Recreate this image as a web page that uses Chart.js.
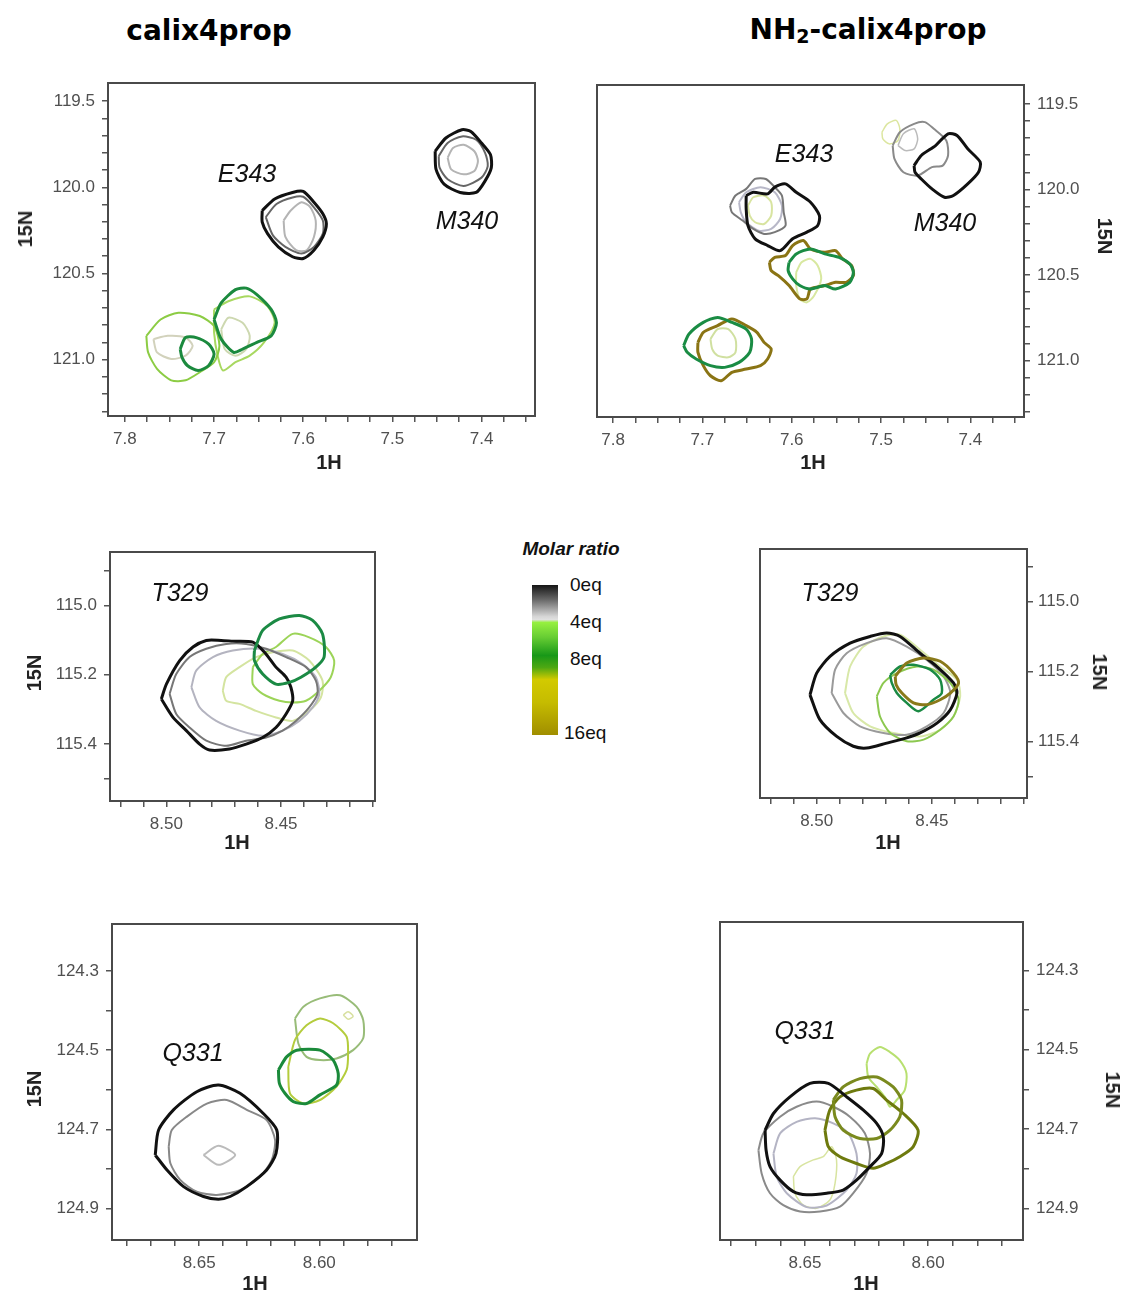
<!DOCTYPE html>
<html><head><meta charset="utf-8">
<script src="https://cdn.jsdelivr.net/npm/chart.js@4.4.1/dist/chart.umd.min.js"></script>
<style>
body{margin:0;background:#fff;width:1125px;height:1292px;position:relative;overflow:hidden;font-family:"Liberation Sans",Arial,sans-serif}
canvas{position:absolute}
.t{position:absolute;white-space:nowrap;transform:translate(-50%,-50%);line-height:1}
.title{font-family:"DejaVu Sans";font-weight:bold;font-size:28px;color:#000}
.res{font-style:italic;font-size:25px;color:#111}
.ax{font-weight:bold;font-size:20px;color:#222}
.rotL{transform:translate(-50%,-50%) rotate(-90deg)}
.rotR{transform:translate(-50%,-50%) rotate(90deg)}
.leg{position:absolute;font-size:19px;color:#111;line-height:1;transform:translateY(-50%)}
sub{font-size:0.68em;vertical-align:-0.18em}
</style></head>
<body>
<div class="t title" style="left:209px;top:31px">calix4prop</div>
<div class="t title" style="left:868px;top:31px">NH<sub>2</sub>-calix4prop</div>

<canvas id="c1" width="555" height="393" style="left:0px;top:73px"></canvas>
<canvas id="c2" width="544" height="392" style="left:580px;top:75px"></canvas>
<canvas id="c3" width="395" height="309" style="left:0px;top:542px"></canvas>
<canvas id="c4" width="377" height="309" style="left:740px;top:539px"></canvas>
<canvas id="c5" width="437" height="376" style="left:0px;top:914px"></canvas>
<canvas id="c6" width="418" height="378" style="left:700px;top:912px"></canvas>

<div class="t res" style="left:247px;top:173px">E343</div>
<div class="t res" style="left:467px;top:220px">M340</div>
<div class="t res" style="left:804px;top:153px">E343</div>
<div class="t res" style="left:945px;top:222px">M340</div>
<div class="t res" style="left:180px;top:592px">T329</div>
<div class="t res" style="left:830px;top:592px">T329</div>
<div class="t res" style="left:193px;top:1052px">Q331</div>
<div class="t res" style="left:805px;top:1030px">Q331</div>

<div class="t ax" style="left:329px;top:462px">1H</div>
<div class="t ax" style="left:813px;top:462px">1H</div>
<div class="t ax" style="left:237px;top:842px">1H</div>
<div class="t ax" style="left:888px;top:842px">1H</div>
<div class="t ax" style="left:255px;top:1283px">1H</div>
<div class="t ax" style="left:866px;top:1283px">1H</div>
<div class="t ax rotL" style="left:25px;top:229px">15N</div>
<div class="t ax rotR" style="left:1105px;top:236px">15N</div>
<div class="t ax rotL" style="left:34px;top:673px">15N</div>
<div class="t ax rotR" style="left:1100px;top:672px">15N</div>
<div class="t ax rotL" style="left:34px;top:1089px">15N</div>
<div class="t ax rotR" style="left:1113px;top:1090px">15N</div>

<div class="t" style="left:571px;top:548px;font-weight:bold;font-style:italic;font-size:19px;color:#111">Molar ratio</div>
<div style="position:absolute;left:532px;top:585px;width:26px;height:150px;background:linear-gradient(to bottom,#151515 0%,#6a6a6a 10%,#d6d6d6 21%,#e0e0e0 23%,#96f040 25%,#66cc33 35%,#189818 47%,#4ea812 55%,#d2ca00 63%,#c6bc00 78%,#a08e00 100%)"></div>
<div class="leg" style="left:570px;top:584px">0eq</div>
<div class="leg" style="left:570px;top:621px">4eq</div>
<div class="leg" style="left:570px;top:658px">8eq</div>
<div class="leg" style="left:564px;top:732px">16eq</div>

<script>
// ---------------- axis ticks ----------------
const topXTicks = [7.8,7.775,7.75,7.725,7.7,7.675,7.65,7.625,7.6,7.575,7.55,7.525,7.5,7.475,7.45,7.425,7.4,7.375,7.35];
const topXLabels = ['7.8','7.7','7.6','7.5','7.4'];
const topYTicks = [119.5,119.6,119.7,119.8,119.9,120.0,120.1,120.2,120.3,120.4,120.5,120.6,120.7,120.8,120.9,121.0,121.1,121.2,121.3];
const topYLabels = ['119.5','120.0','120.5','121.0'];
const midXTicks = [8.52,8.51,8.50,8.49,8.48,8.47,8.46,8.45,8.44,8.43,8.42,8.41];
const midXLabels = ['8.50','8.45'];
const midYTicks = [114.9,115.0,115.2,115.4,115.5];
const midYLabels = ['115.0','115.2','115.4'];
const botXTicks = [8.68,8.67,8.66,8.65,8.64,8.63,8.62,8.61,8.60,8.59,8.58,8.57];
const botXLabels = ['8.65','8.60'];
const botYTicks = [124.3,124.4,124.5,124.6,124.7,124.8,124.9];
const botYLabels = ['124.3','124.5','124.7','124.9'];

// ---------------- contours: [1H ppm, 15N ppm] ----------------
// calix4prop, E343 / M340
const tlE343_0eq = [[7.646,120.135],[7.632,120.068],[7.612,120.030],[7.600,120.024],[7.588,120.087],[7.578,120.154],[7.574,120.212],[7.578,120.288],[7.588,120.365],[7.600,120.413],[7.612,120.403],[7.628,120.346],[7.640,120.269],[7.646,120.202]];
const tlE343_2eq = [[7.642,120.173],[7.630,120.097],[7.612,120.059],[7.600,120.055],[7.588,120.116],[7.578,120.193],[7.578,120.269],[7.588,120.346],[7.602,120.384],[7.620,120.346],[7.634,120.279]];
const tlE343_3eq = [[7.622,120.193],[7.614,120.135],[7.602,120.087],[7.592,120.116],[7.586,120.193],[7.588,120.288],[7.596,120.365],[7.608,120.365],[7.620,120.288]];
const tlM340_0eq = [[7.452,119.791],[7.440,119.714],[7.422,119.666],[7.412,119.676],[7.400,119.743],[7.390,119.810],[7.389,119.886],[7.396,119.963],[7.406,120.030],[7.424,120.030],[7.442,119.982],[7.451,119.896]];
const tlM340_2eq = [[7.448,119.819],[7.438,119.743],[7.422,119.705],[7.406,119.724],[7.396,119.800],[7.393,119.877],[7.400,119.944],[7.420,119.992],[7.438,119.953],[7.447,119.886]];
const tlM340_3eq = [[7.438,119.829],[7.432,119.772],[7.420,119.753],[7.408,119.791],[7.404,119.848],[7.408,119.906],[7.420,119.925],[7.434,119.896]];
const tlG8_big = [[7.700,120.767],[7.692,120.671],[7.676,120.594],[7.664,120.585],[7.652,120.623],[7.636,120.709],[7.630,120.786],[7.636,120.862],[7.652,120.900],[7.668,120.939],[7.678,120.958],[7.692,120.881]];
const tlG8_small = [[7.738,120.939],[7.732,120.872],[7.720,120.872],[7.706,120.910],[7.700,120.967],[7.706,121.034],[7.718,121.063],[7.730,121.034],[7.736,120.987]];
const tlG4_left = [[7.776,120.862],[7.760,120.767],[7.740,120.728],[7.716,120.747],[7.700,120.805],[7.694,120.920],[7.700,121.015],[7.716,121.073],[7.732,121.120],[7.748,121.120],[7.764,121.053],[7.774,120.958]];
const tlG4_right = [[7.700,120.709],[7.684,120.661],[7.660,120.633],[7.640,120.690],[7.632,120.786],[7.644,120.900],[7.660,120.977],[7.676,121.015],[7.690,121.063],[7.696,120.977],[7.700,120.843]];
const tlG5_right = [[7.692,120.824],[7.684,120.757],[7.668,120.786],[7.660,120.862],[7.664,120.939],[7.676,120.977],[7.688,120.939]];
const tlG5_left = [[7.768,120.881],[7.752,120.862],[7.732,120.872],[7.724,120.920],[7.732,120.977],[7.748,120.996],[7.764,120.958]];

// NH2-calix4prop, E343 / M340
const trM340_0eq = [[7.463,119.861],[7.455,119.802],[7.439,119.744],[7.425,119.675],[7.415,119.685],[7.403,119.763],[7.389,119.841],[7.391,119.900],[7.403,119.968],[7.419,120.036],[7.429,120.046],[7.443,119.997],[7.455,119.939],[7.462,119.900]];
const trM340_2eq = [[7.487,119.744],[7.479,119.666],[7.463,119.617],[7.451,119.607],[7.441,119.646],[7.427,119.714],[7.425,119.802],[7.431,119.861],[7.443,119.870],[7.459,119.919],[7.475,119.900],[7.485,119.822]];
const trM340_3eq = [[7.481,119.744],[7.475,119.675],[7.463,119.646],[7.459,119.705],[7.463,119.763],[7.473,119.773]];
const trM340_5eq = [[7.499,119.666],[7.493,119.617],[7.483,119.597],[7.479,119.646],[7.481,119.714],[7.491,119.734],[7.498,119.705]];
const trE343_0eq = [[7.651,120.036],[7.643,120.017],[7.627,120.026],[7.619,119.987],[7.607,119.968],[7.595,120.017],[7.579,120.075],[7.569,120.153],[7.571,120.212],[7.583,120.250],[7.599,120.289],[7.613,120.358],[7.627,120.328],[7.641,120.289],[7.649,120.212],[7.651,120.114]];
const trE343_2eq = [[7.669,120.095],[7.663,120.036],[7.651,119.997],[7.641,119.939],[7.629,119.939],[7.619,119.987],[7.611,120.036],[7.609,120.134],[7.607,120.212],[7.619,120.250],[7.631,120.260],[7.643,120.231],[7.655,120.182],[7.667,120.134]];
const trE343_3eq = [[7.659,120.075],[7.651,120.017],[7.635,119.987],[7.619,120.017],[7.611,120.095],[7.613,120.173],[7.623,120.231],[7.637,120.241],[7.651,120.192],[7.657,120.134]];
const trE343_5eq = [[7.649,120.095],[7.643,120.046],[7.631,120.036],[7.623,120.075],[7.623,120.153],[7.631,120.202],[7.641,120.192],[7.647,120.153]];
const trE343_16eq = [[7.625,120.426],[7.619,120.397],[7.607,120.387],[7.599,120.328],[7.587,120.299],[7.579,120.348],[7.563,120.367],[7.551,120.358],[7.543,120.406],[7.533,120.445],[7.531,120.504],[7.539,120.543],[7.551,120.543],[7.563,120.562],[7.579,120.582],[7.583,120.640],[7.591,120.640],[7.603,120.562],[7.615,120.504],[7.623,120.475]];
const trE343_8eq = [[7.603,120.426],[7.595,120.377],[7.579,120.348],[7.563,120.377],[7.547,120.397],[7.535,120.436],[7.531,120.484],[7.535,120.543],[7.551,120.582],[7.563,120.562],[7.579,120.582],[7.591,120.562],[7.599,120.523],[7.604,120.475]];
const trE343_6eq = [[7.595,120.484],[7.589,120.426],[7.579,120.406],[7.571,120.445],[7.567,120.523],[7.575,120.621],[7.583,120.660],[7.591,120.640],[7.595,120.562]];
const trLow_8eq = [[7.721,120.913],[7.715,120.845],[7.699,120.777],[7.683,120.748],[7.667,120.777],[7.651,120.816],[7.645,120.874],[7.647,120.952],[7.659,121.011],[7.675,121.040],[7.691,121.030],[7.707,120.991],[7.717,120.952]];
const trLow_16eq = [[7.705,120.894],[7.699,120.835],[7.683,120.796],[7.667,120.757],[7.651,120.796],[7.639,120.835],[7.631,120.894],[7.623,120.933],[7.627,120.991],[7.635,121.030],[7.651,121.050],[7.667,121.069],[7.679,121.118],[7.691,121.089],[7.699,121.030],[7.705,120.952]];
const trLow_6eq = [[7.691,120.874],[7.683,120.816],[7.671,120.816],[7.663,120.874],[7.663,120.952],[7.671,120.981],[7.683,120.971],[7.689,120.933]];

// calix4prop, T329
const mlT329_0eq = [[8.5022,115.270],[8.5000,115.227],[8.4942,115.159],[8.4884,115.120],[8.4826,115.101],[8.4761,115.101],[8.4710,115.103],[8.4623,115.106],[8.4572,115.135],[8.4522,115.178],[8.4478,115.207],[8.4457,115.236],[8.4449,115.275],[8.4478,115.313],[8.4522,115.352],[8.4580,115.381],[8.4652,115.400],[8.4725,115.414],[8.4812,115.417],[8.4855,115.400],[8.4913,115.361],[8.4971,115.323]];
const mlT329_2eq = [[8.4986,115.255],[8.4957,115.198],[8.4899,115.149],[8.4826,115.125],[8.4739,115.111],[8.4652,115.111],[8.4565,115.125],[8.4478,115.149],[8.4391,115.178],[8.4348,115.217],[8.4341,115.255],[8.4377,115.294],[8.4435,115.333],[8.4493,115.361],[8.4565,115.381],[8.4652,115.390],[8.4739,115.405],[8.4826,115.390],[8.4899,115.352],[8.4957,115.313]];
const mlT329_3eq = [[8.4891,115.236],[8.4870,115.188],[8.4797,115.149],[8.4710,115.130],[8.4594,115.125],[8.4493,115.140],[8.4406,115.169],[8.4348,115.207],[8.4333,115.255],[8.4362,115.294],[8.4420,115.333],[8.4493,115.361],[8.4580,115.376],[8.4681,115.361],[8.4783,115.333],[8.4855,115.294]];
const mlT329_5eq = [[8.4754,115.246],[8.4739,115.207],[8.4681,115.178],[8.4609,115.149],[8.4536,115.135],[8.4449,115.130],[8.4377,115.159],[8.4319,115.217],[8.4326,115.265],[8.4377,115.304],[8.4449,115.333],[8.4522,115.323],[8.4609,115.304],[8.4681,115.284],[8.4739,115.275]];
const mlT329_4eq = [[8.4623,115.178],[8.4580,115.140],[8.4522,115.120],[8.4449,115.082],[8.4377,115.092],[8.4304,115.120],[8.4268,115.159],[8.4283,115.207],[8.4333,115.246],[8.4391,115.275],[8.4449,115.280],[8.4507,115.275],[8.4580,115.255],[8.4623,115.227]];
const mlT329_8eq = [[8.4616,115.130],[8.4580,115.072],[8.4507,115.039],[8.4420,115.029],[8.4362,115.043],[8.4319,115.082],[8.4312,115.149],[8.4348,115.178],[8.4413,115.207],[8.4464,115.222],[8.4522,115.227],[8.4580,115.198],[8.4616,115.159]];

// NH2-calix4prop, T329
const mrT329_0eq = [[8.5029,115.267],[8.5000,115.205],[8.4942,115.157],[8.4855,115.119],[8.4768,115.100],[8.4696,115.090],[8.4638,115.100],[8.4551,115.148],[8.4478,115.186],[8.4406,115.233],[8.4391,115.262],[8.4420,115.310],[8.4478,115.348],[8.4551,115.376],[8.4609,115.390],[8.4696,115.405],[8.4783,115.419],[8.4841,115.414],[8.4913,115.386],[8.4986,115.338]];
const mrT329_2eq = [[8.4935,115.262],[8.4920,115.195],[8.4870,115.148],[8.4783,115.119],[8.4696,115.105],[8.4609,115.129],[8.4522,115.167],[8.4449,115.214],[8.4420,115.262],[8.4449,115.319],[8.4522,115.357],[8.4609,115.381],[8.4710,115.376],[8.4812,115.357],[8.4884,115.319]];
const mrT329_5eq = [[8.4877,115.262],[8.4855,115.186],[8.4797,115.129],[8.4710,115.100],[8.4638,115.095],[8.4551,115.138],[8.4464,115.186],[8.4391,115.224],[8.4377,115.271],[8.4406,115.329],[8.4464,115.367],[8.4551,115.386],[8.4667,115.376],[8.4768,115.357],[8.4841,115.319]];
const mrT329_4eq = [[8.4739,115.271],[8.4710,115.233],[8.4652,115.205],[8.4565,115.186],[8.4493,115.195],[8.4420,115.233],[8.4384,115.281],[8.4406,115.329],[8.4464,115.367],[8.4536,115.395],[8.4609,115.400],[8.4681,115.376],[8.4725,115.329]];
const mrT329_16eq = [[8.4659,115.214],[8.4609,115.176],[8.4536,115.162],[8.4464,115.171],[8.4406,115.205],[8.4384,115.233],[8.4420,115.262],[8.4464,115.281],[8.4522,115.295],[8.4580,115.290],[8.4630,115.262],[8.4655,115.238]];
const mrT329_8eq = [[8.4681,115.210],[8.4638,115.186],[8.4580,115.181],[8.4507,115.195],[8.4464,115.224],[8.4457,115.262],[8.4493,115.281],[8.4558,115.314],[8.4609,115.290],[8.4652,115.262],[8.4674,115.233]];

// calix4prop, Q331
const blQ331_0eq = [[8.6683,124.765],[8.6669,124.702],[8.6607,124.651],[8.6510,124.605],[8.6420,124.588],[8.6330,124.609],[8.6233,124.660],[8.6177,124.702],[8.6180,124.761],[8.6219,124.803],[8.6302,124.845],[8.6371,124.870],[8.6420,124.877],[8.6482,124.870],[8.6565,124.845],[8.6634,124.803]];
const blQ331_2eq = [[8.6627,124.744],[8.6614,124.702],[8.6551,124.668],[8.6468,124.635],[8.6385,124.626],[8.6302,124.651],[8.6219,124.677],[8.6184,124.727],[8.6198,124.778],[8.6247,124.820],[8.6330,124.854],[8.6427,124.866],[8.6510,124.858],[8.6579,124.828],[8.6620,124.786]];
const blQ331_3eq = [[8.6482,124.765],[8.6420,124.742],[8.6350,124.765],[8.6420,124.790]];
const blQ331_8eq = [[8.6170,124.550],[8.6136,124.517],[8.6094,124.500],[8.5997,124.500],[8.5942,124.525],[8.5921,124.559],[8.5928,124.588],[8.5997,124.613],[8.6053,124.635],[8.6108,124.630],[8.6143,124.609],[8.6166,124.584]];
const blQ331_6eq = [[8.6129,124.542],[8.6101,124.474],[8.6053,124.437],[8.5997,124.420],[8.5942,124.432],[8.5886,124.466],[8.5880,124.508],[8.5886,124.550],[8.5928,124.592],[8.5997,124.626],[8.6066,124.635],[8.6122,124.609]];
const blQ331_4eq = [[8.6101,124.420],[8.6066,124.390],[8.5997,124.369],[8.5914,124.361],[8.5845,124.390],[8.5817,124.424],[8.5817,124.470],[8.5859,124.500],[8.5928,124.521],[8.5997,124.525],[8.6053,124.517],[8.6087,124.483]];
const blQ331_5eq = [[8.5900,124.411],[8.5880,124.403],[8.5859,124.414],[8.5880,124.422]];

// NH2-calix4prop, Q331
const brQ331_0eq = [[8.6662,124.703],[8.6628,124.661],[8.6561,124.619],[8.6480,124.585],[8.6405,124.585],[8.6331,124.619],[8.6264,124.652],[8.6209,124.686],[8.6182,124.720],[8.6189,124.762],[8.6236,124.795],[8.6291,124.829],[8.6345,124.854],[8.6412,124.862],[8.6493,124.866],[8.6547,124.858],[8.6601,124.829],[8.6642,124.795],[8.6658,124.753]];
const brQ331_2eq = [[8.6689,124.753],[8.6669,124.711],[8.6601,124.669],[8.6534,124.644],[8.6453,124.631],[8.6385,124.644],[8.6318,124.669],[8.6257,124.711],[8.6236,124.762],[8.6250,124.812],[8.6304,124.862],[8.6358,124.896],[8.6439,124.908],[8.6520,124.908],[8.6588,124.892],[8.6642,124.862],[8.6676,124.812]];
const brQ331_3eq = [[8.6628,124.762],[8.6601,124.711],[8.6534,124.682],[8.6459,124.673],[8.6385,124.686],[8.6324,124.711],[8.6291,124.762],[8.6291,124.812],[8.6331,124.854],[8.6412,124.893],[8.6493,124.897],[8.6574,124.862],[8.6615,124.820]];
const brQ331_5eq = [[8.6547,124.820],[8.6520,124.795],[8.6466,124.778],[8.6426,124.770],[8.6392,124.745],[8.6372,124.778],[8.6378,124.837],[8.6399,124.879],[8.6453,124.900],[8.6507,124.892],[8.6541,124.862]];
const brQ331_12eq = [[8.6385,124.627],[8.6345,124.594],[8.6277,124.573],[8.6209,124.569],[8.6142,124.594],[8.6108,124.627],[8.6115,124.669],[8.6155,124.703],[8.6209,124.724],[8.6277,124.724],[8.6345,124.703],[8.6378,124.669]];
const brQ331_16eq = [[8.6419,124.703],[8.6399,124.652],[8.6358,124.619],[8.6291,124.602],[8.6223,124.598],[8.6169,124.627],[8.6101,124.661],[8.6041,124.703],[8.6061,124.745],[8.6115,124.770],[8.6169,124.787],[8.6223,124.799],[8.6291,124.787],[8.6358,124.770],[8.6405,124.745]];
const brQ331_4eq = [[8.6250,124.535],[8.6236,124.510],[8.6196,124.493],[8.6155,124.506],[8.6115,124.527],[8.6088,124.560],[8.6095,124.602],[8.6128,124.627],[8.6155,124.644],[8.6176,124.619],[8.6209,124.594],[8.6243,124.569]];

// ---------------- drawing ----------------
function labelFor(v, labels) {
  for (const s of labels) if (Math.abs(parseFloat(s) - v) < 1e-6) return s;
  return '';
}
function noPad(s) { s.paddingTop = 0; s.paddingBottom = 0; s.paddingLeft = 0; s.paddingRight = 0; }
const framePlugin = {
  id: 'frame',
  afterDraw(chart) {
    const {ctx, chartArea: a} = chart;
    ctx.save();
    ctx.strokeStyle = '#4a4a4a';
    ctx.lineWidth = 2;
    ctx.strokeRect(a.left, a.top, a.right - a.left, a.bottom - a.top);
    ctx.restore();
  }
};
function makePanel(id, o) {
  const datasets = o.series.map(s => ({
    data: s[0].concat([s[0][0]]).map(p => ({x: p[0], y: p[1]})),
    borderColor: s[1], borderWidth: s[2], showLine: true, pointRadius: 0,
    fill: false, tension: 0.25
  }));
  const tickFont = {family: 'Liberation Sans', size: 17};
  const gridOpt = {drawOnChartArea: false, drawTicks: true, tickLength: 6, color: '#555', lineWidth: 1.5};
  new Chart(document.getElementById(id), {
    type: 'scatter',
    data: {datasets},
    options: {
      responsive: false, animation: false, devicePixelRatio: 1, events: [],
      layout: {padding: o.pad},
      plugins: {legend: {display: false}, tooltip: {enabled: false}},
      scales: {
        x: {
          type: 'linear', reverse: true, min: o.xr[1], max: o.xr[0], position: 'bottom',
          afterBuildTicks: s => { s.ticks = o.xt.map(v => ({value: v})); },
          afterFit: s => { s.height = o.xh; noPad(s); },
          ticks: {autoSkip: false, maxRotation: 0, minRotation: 0, padding: 7, color: '#505050', font: tickFont,
                  callback: v => labelFor(v, o.xl)},
          grid: gridOpt, border: {display: false}
        },
        y: {
          type: 'linear', reverse: true, min: o.yr[0], max: o.yr[1], position: o.ypos,
          afterBuildTicks: s => { s.ticks = o.yt.map(v => ({value: v})); },
          afterFit: s => { s.width = o.yw; noPad(s); },
          ticks: {autoSkip: false, padding: o.ypad, color: '#505050', font: tickFont,
                  callback: v => labelFor(v, o.yl)},
          grid: gridOpt, border: {display: false}
        }
      }
    },
    plugins: [framePlugin]
  });
}

makePanel('c1', {
  pad: {top: 10, left: 0, right: 20, bottom: 0}, xh: 50, yw: 108, ypos: 'left', ypad: 7,
  xr: [7.340, 7.819], yr: [119.395, 121.327],
  xt: topXTicks, xl: topXLabels, yt: topYTicks, yl: topYLabels,
  series: [
    [tlE343_0eq, '#111111', 3], [tlE343_2eq, '#666666', 2], [tlE343_3eq, '#b4b4b4', 2],
    [tlM340_0eq, '#111111', 3], [tlM340_2eq, '#666666', 2], [tlM340_3eq, '#b4b4b4', 2],
    [tlG8_big, '#1b8a3e', 3], [tlG8_small, '#1b8a3e', 3],
    [tlG4_left, '#8ccc44', 2], [tlG4_right, '#a8d860', 2],
    [tlG5_right, '#cdd8b0', 2], [tlG5_left, '#d2d2bc', 2]
  ]
});
makePanel('c2', {
  pad: {top: 10, left: 17, right: 0, bottom: 0}, xh: 50, yw: 100, ypos: 'right', ypad: 7,
  xr: [7.340, 7.818], yr: [119.390, 121.330],
  xt: topXTicks, xl: topXLabels, yt: topYTicks, yl: topYLabels,
  series: [
    [trM340_0eq, '#111111', 3], [trM340_2eq, '#8a8a8a', 2], [trM340_3eq, '#bbbbbb', 1.5], [trM340_5eq, '#dce6a0', 1.5],
    [trE343_0eq, '#111111', 3], [trE343_2eq, '#777777', 2], [trE343_3eq, '#b8b8c8', 2], [trE343_5eq, '#d8e4a0', 2],
    [trE343_8eq, '#1a8c44', 3], [trE343_16eq, '#8a7414', 3], [trE343_6eq, '#d8e8a0', 2],
    [trLow_8eq, '#1a8c44', 3], [trLow_16eq, '#8a7414', 3], [trLow_6eq, '#d0e0a0', 2]
  ]
});
makePanel('c3', {
  pad: {top: 10, left: 0, right: 20, bottom: 0}, xh: 50, yw: 110, ypos: 'left', ypad: 7,
  xr: [8.409, 8.5246], yr: [114.846, 115.564],
  xt: midXTicks, xl: midXLabels, yt: midYTicks, yl: midYLabels,
  series: [
    [mlT329_8eq, '#1b8a44', 3], [mlT329_0eq, '#111111', 3], [mlT329_2eq, '#777777', 2],
    [mlT329_3eq, '#b4b4c0', 2], [mlT329_4eq, '#9cd458', 2], [mlT329_5eq, '#d4e4a0', 2]
  ]
});
makePanel('c4', {
  pad: {top: 10, left: 20, right: 0, bottom: 0}, xh: 50, yw: 90, ypos: 'right', ypad: 5,
  xr: [8.4087, 8.5246], yr: [114.850, 115.562],
  xt: midXTicks, xl: midXLabels, yt: midYTicks, yl: midYLabels,
  series: [
    [mrT329_16eq, '#8a7a1a', 3], [mrT329_8eq, '#1a8a44', 2.5], [mrT329_0eq, '#111111', 3],
    [mrT329_4eq, '#8cc850', 2], [mrT329_2eq, '#9a9a9a', 2], [mrT329_5eq, '#d8e8a8', 2]
  ]
});
makePanel('c5', {
  pad: {top: 10, left: 0, right: 20, bottom: 0}, xh: 50, yw: 112, ypos: 'left', ypad: 7,
  xr: [8.5593, 8.6863], yr: [124.181, 124.980],
  xt: botXTicks, xl: botXLabels, yt: botYTicks, yl: botYLabels,
  series: [
    [blQ331_0eq, '#111111', 3], [blQ331_2eq, '#888888', 2], [blQ331_3eq, '#bbbbbb', 2],
    [blQ331_8eq, '#1a8a3a', 3], [blQ331_6eq, '#b4cc3c', 2], [blQ331_4eq, '#98bc78', 2], [blQ331_5eq, '#d8e0a0', 1.5]
  ]
});
makePanel('c6', {
  pad: {top: 10, left: 20, right: 0, bottom: 0}, xh: 50, yw: 95, ypos: 'right', ypad: 7,
  xr: [8.5615, 8.6845], yr: [124.178, 124.980],
  xt: botXTicks, xl: botXLabels, yt: botYTicks, yl: botYLabels,
  series: [
    [brQ331_0eq, '#111111', 3], [brQ331_12eq, '#7a8a1e', 3], [brQ331_16eq, '#6e7a0e', 3],
    [brQ331_2eq, '#8a8a8a', 2], [brQ331_3eq, '#b4b4c4', 2], [brQ331_5eq, '#d8e4a0', 1.5], [brQ331_4eq, '#b8e070', 2]
  ]
});
</script>
</body></html>
